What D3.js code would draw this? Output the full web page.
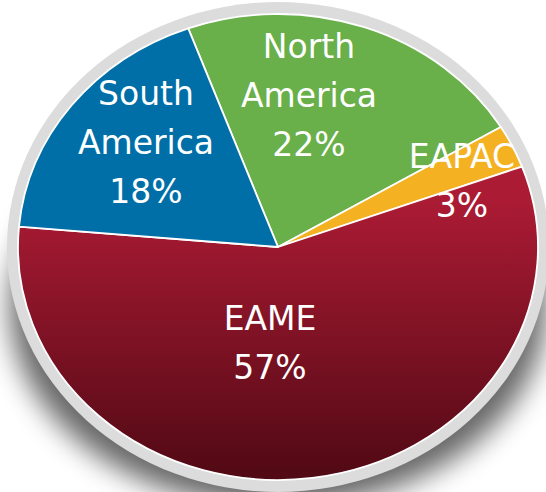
<!DOCTYPE html>
<html>
<head>
<meta charset="utf-8">
<script src="https://cdn.jsdelivr.net/npm/d3@7"></script>
<style>
  html, body { margin: 0; padding: 0; background: #ffffff; }
  svg { display: block; }
</style>
</head>
<body>
<div id="chart"></div>
<script>
// ---- data ----
const categories = ["North America", "EAPAC", "EAME", "South America"];
const shares = [22, 3, 57, 18];
const labelLines = [["North", "America", "22%"], ["EAPAC", "3%"], ["EAME", "57%"], ["South", "America", "18%"]];

// ---- layout / style ----
const W = 546, H = 492;
const cx = 278, cy = 247;
const rx = 260, ry = 233;       // pie ellipse
const ringRx = 271, ringRy = 245;
const startDeg = -20.2;
const colors = { "North America": "#69af4a", "EAPAC": "#f4b223", "EAME": "url(#redGrad)", "South America": "#006fa8" };
const labelAnchor = {
  "North America": { x: 309, y: 58 },
  "EAPAC": { x: 462, y: 168 },
  "EAME": { x: 270, y: 330 },
  "South America": { x: 146, y: 105 }
};
const lineGap = 49;

const svg = d3.select("#chart").append("svg").attr("width", W).attr("height", H);
const defs = svg.append("defs");

// gradient in the pie group's local (unscaled) coordinates
const grad = defs.append("linearGradient").attr("id", "redGrad")
  .attr("gradientUnits", "userSpaceOnUse")
  .attr("x1", 0).attr("y1", -rx).attr("x2", 0).attr("y2", rx);
grad.append("stop").attr("offset", "0%").attr("stop-color", "#b51d39");
grad.append("stop").attr("offset", "40%").attr("stop-color", "#ab1b34");
grad.append("stop").attr("offset", "100%").attr("stop-color", "#500914");

const blur = defs.append("filter").attr("id", "shadowBlur")
  .attr("x", "-30%").attr("y", "-30%").attr("width", "160%").attr("height", "160%");
blur.append("feGaussianBlur").attr("stdDeviation", 14);

// shadow
svg.append("ellipse")
  .attr("cx", cx).attr("cy", cy + 60)
  .attr("rx", 268).attr("ry", 200)
  .attr("fill", "#000").attr("opacity", 0.6)
  .attr("filter", "url(#shadowBlur)");

// gray ring
svg.append("ellipse")
  .attr("cx", cx).attr("cy", cy)
  .attr("rx", ringRx).attr("ry", ringRy)
  .attr("fill", "#dcdcdc");

const data = categories.map((c, i) => ({ cat: c, value: shares[i], lines: labelLines[i] }));
const start = startDeg * Math.PI / 180;
const pie = d3.pie().sort(null).value(d => d.value).startAngle(start).endAngle(start + 2 * Math.PI);
const arc = d3.arc().innerRadius(0).outerRadius(rx);

const g = svg.append("g").attr("transform", `translate(${cx},${cy}) scale(1,${ry / rx})`);
g.selectAll("path").data(pie(data)).join("path")
  .attr("d", arc)
  .attr("fill", d => colors[d.data.cat])
  .attr("stroke", "#ffffff")
  .attr("stroke-width", 1.8)
  .attr("stroke-linejoin", "round")
  .attr("vector-effect", "non-scaling-stroke");

// labels
const lg = svg.append("g")
  .attr("font-family", "'DejaVu Sans', Verdana, sans-serif")
  .attr("font-size", 33)
  .attr("fill", "#ffffff")
  .attr("text-anchor", "middle");
data.forEach(d => {
  const a = labelAnchor[d.cat];
  const t = lg.append("text");
  d.lines.forEach((ln, i) => {
    t.append("tspan").attr("x", a.x).attr("y", a.y + i * lineGap).text(ln);
  });
});
</script>
</body>
</html>
